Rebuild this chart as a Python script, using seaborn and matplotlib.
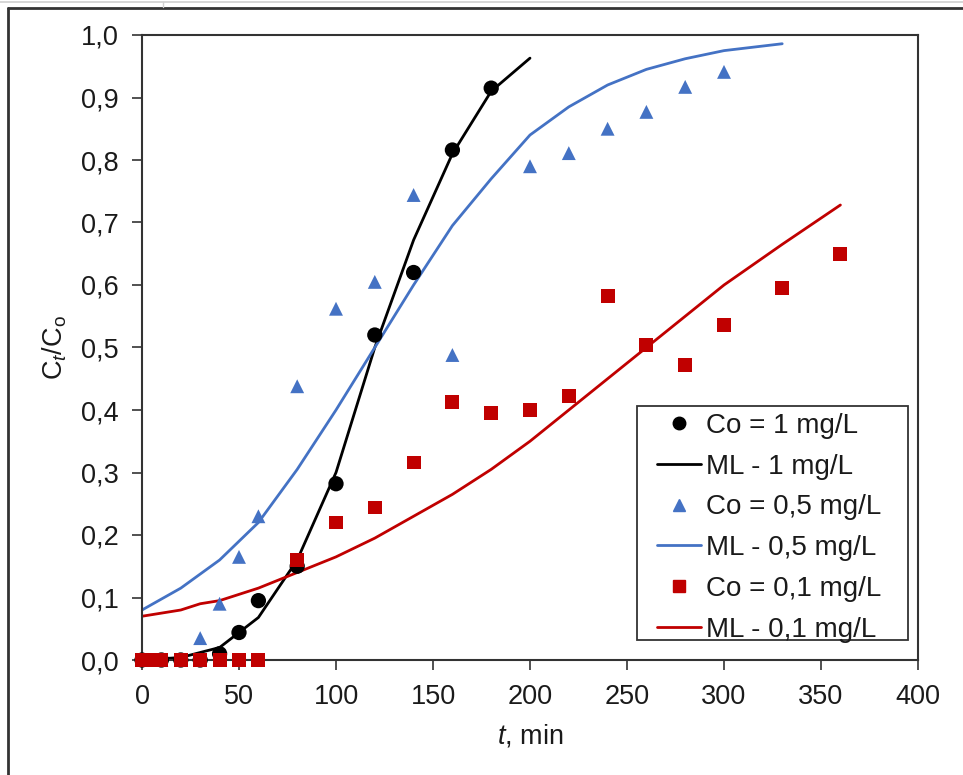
import matplotlib
matplotlib.use("Agg")
import matplotlib.pyplot as plt
from matplotlib.lines import Line2D
from matplotlib.patches import Rectangle
from matplotlib.ticker import FuncFormatter, MultipleLocator
import numpy as np
import pandas as pd
import seaborn as sns

# Experimental breakthrough points, Co = 1 mg/L
t_exp_1 = [0, 10, 20, 30, 40, 50, 60, 80, 100, 120, 140, 160, 180]
c_exp_1 = [0.0, 0.0, 0.0, 0.0, 0.01, 0.044, 0.095, 0.15, 0.282, 0.52, 0.62, 0.816, 0.915]

# Experimental breakthrough points, Co = 0,5 mg/L
t_exp_05 = [0, 10, 20, 30, 40, 50, 60, 80, 100, 120, 140, 160, 200, 220, 240, 260, 280, 300]
c_exp_05 = [0.0, 0.0, 0.0, 0.035, 0.09, 0.165, 0.23, 0.438, 0.562, 0.605, 0.744, 0.488,
            0.79, 0.811, 0.85, 0.877, 0.917, 0.941]

# Experimental breakthrough points, Co = 0,1 mg/L
t_exp_01 = [0, 5, 10, 20, 30, 40, 50, 60, 80, 100, 120, 140, 160, 180, 200, 220, 240,
            260, 280, 300, 330, 360]
c_exp_01 = [0.0, 0.0, 0.0, 0.0, 0.0, 0.0, 0.0, 0.0, 0.16, 0.22, 0.244, 0.316, 0.413, 0.395,
            0.40, 0.423, 0.582, 0.504, 0.472, 0.536, 0.595, 0.65]

# Model (ML) curves
t_ml_1 = [0, 20, 40, 50, 60, 80, 100, 120, 140, 160, 180, 200]
c_ml_1 = [0.0, 0.004, 0.02, 0.044, 0.068, 0.16, 0.30, 0.50, 0.672, 0.81, 0.91, 0.963]

t_ml_05 = [0, 20, 40, 60, 80, 100, 120, 140, 160, 180, 200, 220, 240, 260, 280, 300, 330]
c_ml_05 = [0.08, 0.115, 0.16, 0.22, 0.305, 0.40, 0.50, 0.60, 0.695, 0.77, 0.84, 0.885,
           0.92, 0.945, 0.962, 0.975, 0.986]

t_ml_01 = [0, 20, 30, 40, 60, 80, 100, 120, 140, 160, 180, 200, 220, 240, 260, 280, 300,
           330, 360]
c_ml_01 = [0.07, 0.08, 0.09, 0.095, 0.115, 0.14, 0.165, 0.195, 0.23, 0.265, 0.305, 0.35,
           0.40, 0.45, 0.50, 0.55, 0.60, 0.665, 0.728]

labels = ["Co = 1 mg/L", "ML - 1 mg/L", "Co = 0,5 mg/L", "ML - 0,5 mg/L",
          "Co = 0,1 mg/L", "ML - 0,1 mg/L"]

BLACK = "#000000"
BLUE = "#4472C4"
RED = "#C00000"
TXT = "#1a1a1a"
FS = 19.5
FS_LEG = 20

sns.set_theme(style="white")
plt.rcParams["font.family"] = ["Liberation Sans", "DejaVu Sans"]
plt.rcParams["mathtext.fontset"] = "custom"
plt.rcParams["mathtext.rm"] = "Liberation Sans"
plt.rcParams["mathtext.it"] = "Liberation Sans:italic"

fig = plt.figure(figsize=(9.63, 7.75), dpi=100)
ax = fig.add_axes([142 / 963, 1 - 660 / 775, 776 / 963, 625 / 775])

exp = [
    (t_exp_1, c_exp_1, BLACK, "o", 11),
    (t_exp_05, c_exp_05, BLUE, "^", 10),
    (t_exp_01, c_exp_01, RED, "s", 10),
]
mod = [
    (t_ml_1, c_ml_1, BLACK),
    (t_ml_05, c_ml_05, BLUE),
    (t_ml_01, c_ml_01, RED),
]

# model curves first, measured points on top
for t, c, col in mod:
    df = pd.DataFrame({"t": t, "c": c})
    sns.lineplot(data=df, x="t", y="c", ax=ax, color=col, lw=2.0, sort=False,
                 estimator=None, zorder=2)

for t, c, col, mk, ms in exp:
    df = pd.DataFrame({"t": t, "c": c})
    sns.scatterplot(data=df, x="t", y="c", ax=ax, color=col, marker=mk, s=ms ** 2,
                    linewidth=0, edgecolor="none", zorder=3, clip_on=False)

ax.set_xlim(0, 400)
ax.set_ylim(0, 1.0)
ax.xaxis.set_major_locator(MultipleLocator(50))
ax.yaxis.set_major_locator(MultipleLocator(0.1))
ax.yaxis.set_major_formatter(FuncFormatter(lambda v, p: f"{v:.1f}".replace(".", ",")))
ax.xaxis.set_major_formatter(FuncFormatter(lambda v, p: f"{v:.0f}"))

ax.tick_params(axis="both", which="major", direction="out", length=7, width=1.2,
               color="#333333", labelsize=FS, labelcolor=TXT,
               bottom=True, left=True)
ax.tick_params(axis="y", pad=10)
ax.tick_params(axis="x", pad=10)
for s in ax.spines.values():
    s.set_color("#333333")
    s.set_linewidth(1.5)

ax.set_xlabel(r"$t$, min", fontsize=FS, color=TXT, labelpad=9)
ax.set_ylabel(r"C$_t$/C$_\mathrm{o}$", fontsize=FS, color=TXT, labelpad=8)

handles = [
    Line2D([], [], ls="none", marker="o", color=BLACK, ms=9),
    Line2D([], [], color=BLACK, lw=2.0),
    Line2D([], [], ls="none", marker="^", color=BLUE, ms=9),
    Line2D([], [], color=BLUE, lw=2.0),
    Line2D([], [], ls="none", marker="s", color=RED, ms=8),
    Line2D([], [], color=RED, lw=2.0),
]
# legend entries without their own frame; the box is drawn separately
leg = ax.legend(handles, labels, loc="upper left",
                bbox_to_anchor=((657 - 142) / 776, (660 - 413) / 625),
                fontsize=FS_LEG, frameon=False, handlelength=1.6,
                handletextpad=0.15, labelspacing=0.53, borderpad=0.0,
                borderaxespad=0.0)
for txt in leg.get_texts():
    txt.set_color(TXT)
ax.add_patch(Rectangle(((637 - 142) / 776, (660 - 640) / 625),
                       (908 - 637) / 776, (640 - 406) / 625,
                       transform=ax.transAxes, facecolor="white",
                       edgecolor="#333333", lw=1.3, zorder=4))
leg.set_zorder(5)

# chart-area border and the sheet grid peeking above it
fig.add_artist(Line2D([8 / 963, 8 / 963], [0, 1 - 8 / 775], transform=fig.transFigure,
                      color="#333333", lw=2.0))
fig.add_artist(Line2D([8 / 963, 1], [1 - 8 / 775, 1 - 8 / 775], transform=fig.transFigure,
                      color="#333333", lw=2.0))
fig.add_artist(Line2D([0, 1], [1 - 2 / 775, 1 - 2 / 775], transform=fig.transFigure,
                      color="#d0d0d0", lw=1.2))
fig.add_artist(Line2D([163 / 963, 163 / 963], [1 - 7 / 775, 1 - 2 / 775],
                      transform=fig.transFigure, color="#d0d0d0", lw=1.0))

fig.savefig("out.png", dpi=100)
